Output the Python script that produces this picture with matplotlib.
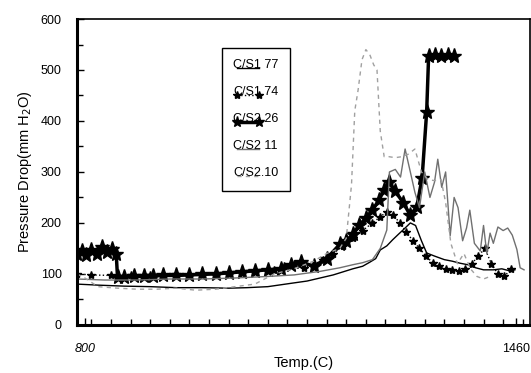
import matplotlib
matplotlib.use('Agg')
import matplotlib.pyplot as plt
from matplotlib.ticker import MultipleLocator
from matplotlib.legend_handler import HandlerLine2D

plt.rcParams['font.family'] = ['Liberation Sans', 'DejaVu Sans']

# C/S1 77 - thin black solid
t_s177 = [788, 820, 860, 900, 940, 980, 1020, 1048, 1080, 1118, 1140, 1160, 1180, 1195,
          1210, 1225, 1236, 1245, 1252, 1262, 1271, 1280, 1290, 1298, 1306, 1315, 1323,
          1335, 1350, 1362, 1374, 1386, 1398, 1410, 1425, 1438, 1450, 1458]
p_s177 = [80, 78, 76, 75, 73, 73, 72, 73, 75, 82, 86, 92, 98, 104,
          110, 115, 123, 130, 147, 155, 167, 178, 190, 200, 195, 165, 141,
          135, 128, 125, 121, 118, 112, 108, 108, 110, 106, 108]

# C/S1.74 - dotted with small stars
t_s174 = [788, 810, 840, 870, 900, 940, 980, 1020, 1060, 1090, 1105, 1120, 1135, 1150,
          1165, 1180, 1195, 1210, 1225, 1240, 1252, 1262, 1272, 1282, 1292, 1302, 1312,
          1322, 1332, 1342, 1352, 1362, 1372, 1382, 1392, 1402, 1412, 1422, 1432, 1442, 1452]
p_s174 = [100, 98, 97, 97, 98, 99, 100, 102, 105, 108, 115, 120, 112, 118,
          128, 140, 155, 170, 185, 200, 212, 222, 215, 200, 182, 165, 150,
          135, 122, 115, 110, 108, 105, 110, 120, 135, 150, 120, 100, 95, 110]

# C/S2 26 - thick black with big stars
t_s226 = [788, 795, 802, 810, 818, 826, 834, 842, 848, 850, 860, 875, 890, 905, 920,
          940, 960, 980, 1000, 1020, 1040, 1060, 1080, 1100, 1115, 1130, 1150, 1170,
          1190, 1200, 1210, 1220, 1230, 1240, 1250, 1258, 1265, 1275, 1287, 1298, 1308,
          1316, 1323, 1326, 1335, 1345, 1355, 1365]
p_s226 = [140, 145, 138, 147, 140, 152, 143, 148, 140, 93, 94, 95, 95, 96, 97,
          97, 98, 99, 100, 102, 104, 106, 108, 110, 118, 124, 115, 130,
          158, 165, 178, 195, 210, 225, 245, 265, 280, 262, 240, 215, 232,
          288, 418, 528, 530, 527, 530, 528]

# C/S2 11 - thin gray solid
t_s211 = [788, 830, 880, 930, 980, 1030, 1080, 1120, 1160, 1190, 1210, 1225, 1240, 1252,
          1262, 1266, 1275, 1283, 1290, 1298, 1305, 1312, 1320, 1328, 1335, 1340, 1346,
          1352, 1359, 1365, 1371, 1378, 1384, 1389, 1396, 1405, 1410, 1415, 1420, 1425,
          1432, 1440, 1447, 1454, 1461, 1466, 1472]
p_s211 = [90, 88, 88, 90, 90, 92, 95, 98, 105, 112, 118, 122, 128, 150,
          186, 300, 305, 290, 345, 300, 260, 230, 300, 250, 280, 325, 270,
          300, 175, 250, 230, 165, 190, 225, 160, 145, 195, 140, 180, 160,
          192, 185, 190, 176, 148, 112, 108]

# C/S2.10 - light gray dashed
t_s210 = [788, 800, 820, 850, 880, 910, 940, 970, 1000, 1030, 1060, 1090, 1120, 1150,
          1170, 1190, 1200, 1208, 1213, 1218, 1224, 1230, 1236, 1242, 1247, 1252, 1258,
          1265, 1275, 1285, 1295, 1305, 1315, 1325, 1335, 1345, 1352, 1360, 1370, 1380,
          1390, 1400, 1410, 1420]
p_s210 = [100, 92, 75, 72, 70, 70, 72, 68, 70, 75, 80, 100, 110, 125,
          140, 150, 170, 275, 420, 460, 520, 540, 530, 510, 500, 380, 330,
          330, 328, 330, 335, 345, 300, 285, 283, 285, 240, 160, 120, 140,
          110, 95, 90, 95]

labels = ['C/S1 77', 'C/S1.74', 'C/S2 26', 'C/S2 11', 'C/S2.10']


class LowLineHandler(HandlerLine2D):
    # draw the legend sample under the text, like an underline
    def create_artists(self, legend, orig_handle, xdescent, ydescent,
                       width, height, fontsize, trans):
        return super().create_artists(legend, orig_handle, xdescent, ydescent + 6,
                                      width, height, fontsize, trans)


fig = plt.figure(figsize=(5.31, 3.73), dpi=100)
ax = fig.add_axes([0.145, 0.129, 0.853, 0.82])

ax.plot(t_s177, p_s177, color='black', lw=1.0, label=labels[0])
ax.plot(t_s174, p_s174, color='black', lw=1.0, ls=':', marker='*', ms=6, label=labels[1])
ax.plot(t_s226, p_s226, color='black', lw=2.5, marker='*', ms=11, label=labels[2])
ax.plot(t_s211, p_s211, color='#707070', lw=1.0, label=labels[3])
ax.plot(t_s210, p_s210, color='#a0a0a0', lw=1.0, ls=(0, (3, 3)), label=labels[4])

ax.set_xlim(788, 1481)
ax.set_ylim(0, 600)
ax.set_xticks([800, 1460])
ax.set_xticklabels(['800', '1460'])
ax.get_xticklabels()[0].set_fontstyle('italic')
ax.xaxis.set_minor_locator(MultipleLocator(30))
ax.set_yticks(range(0, 601, 100))
ax.yaxis.set_minor_locator(MultipleLocator(50))
ax.tick_params(which='both', direction='in', labelsize=9, width=1)
ax.tick_params(which='major', length=5)
ax.tick_params(which='minor', length=4)
ax.tick_params(axis='x', pad=13)
ax.tick_params(axis='y', pad=11)

for side in ['left', 'bottom']:
    ax.spines[side].set_linewidth(2.2)
for side in ['top', 'right']:
    ax.spines[side].set_linewidth(1.2)

ax.set_xlabel('Temp.(C)', fontsize=10.5, labelpad=1)
ax.set_ylabel('Pressure Drop(mm H$_2$O)', fontsize=10.5, labelpad=5)

handler = LowLineHandler(numpoints=2)
leg = ax.legend(loc='upper left', bbox_to_anchor=(0.32, 0.905), fontsize=9,
                frameon=True, fancybox=False, edgecolor='black', framealpha=1,
                handlelength=2.4, handletextpad=-2.4, labelspacing=1.2,
                borderpad=0.9, borderaxespad=0,
                handler_map={matplotlib.lines.Line2D: handler})
leg.get_frame().set_linewidth(1.0)
for line in leg.get_lines():
    line.set_markersize(min(line.get_markersize(), 8))

fig.savefig('out.png', dpi=100)
